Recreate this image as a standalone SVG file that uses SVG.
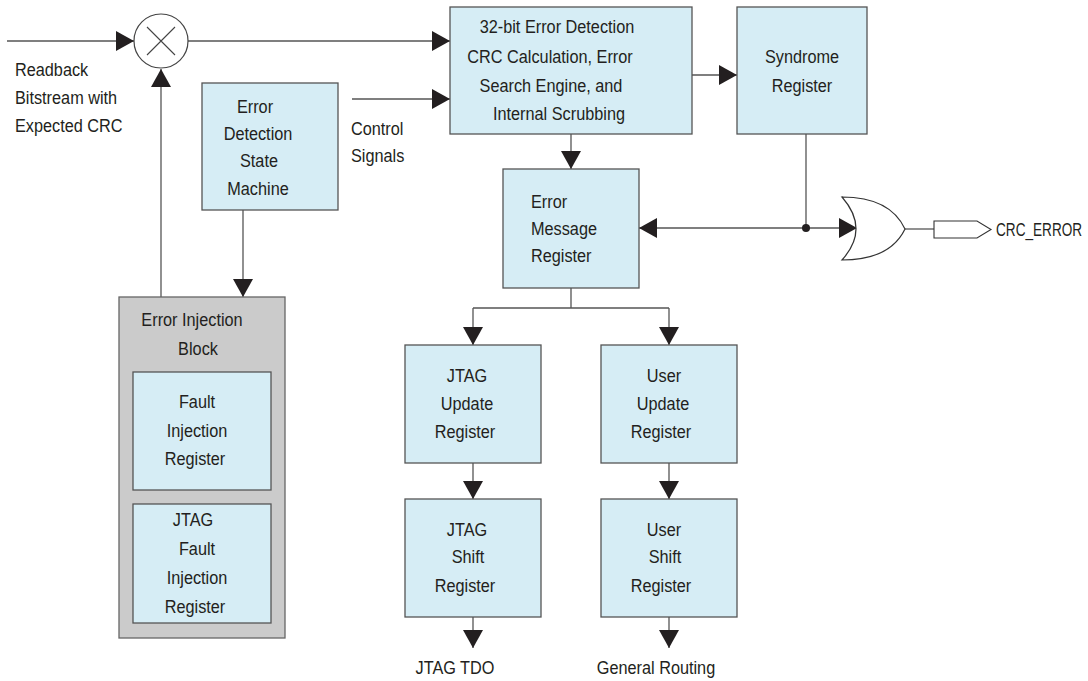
<svg xmlns="http://www.w3.org/2000/svg" width="1088" height="681" viewBox="0 0 1088 681">
<style>
text{font-family:"Liberation Sans",Arial,sans-serif;font-size:18.5px;fill:#231f20;transform-box:fill-box;transform-origin:left center;transform:scaleX(0.88)}
text.c{text-anchor:middle;transform-origin:center center}
text.n{transform:none;font-size:13.6px}
.box{fill:#d6edf5;stroke:#555;stroke-width:1.3}
.gray{fill:#cbcbcb;stroke:#666;stroke-width:1.3}
.ln{fill:none;stroke:#555;stroke-width:1.3}
.arr{marker-end:url(#ah)}
</style>
<defs>
<marker id="ah" markerUnits="userSpaceOnUse" markerWidth="18" markerHeight="20" refX="18" refY="10" orient="auto">
<path d="M0,0 L18,10 L0,20 Z" fill="#231f20"/>
</marker>
</defs>
<rect width="1088" height="681" fill="#fff"/>

<g id="connectors">
<path class="ln arr" d="M7,41 H134"/>
<path class="ln arr" d="M188,41 H450"/>
<path class="ln arr" d="M352,99 H450"/>
<path class="ln arr" d="M161,297 V69"/>
<path class="ln arr" d="M243,210 V297"/>
<path class="ln arr" d="M692,75 H737"/>
<path class="ln arr" d="M571,134 V169"/>
<path class="ln" d="M806,134 V228"/>
<path class="ln arr" d="M806,228 H639"/>
<path class="ln arr" d="M806,228 H857"/>
<circle cx="806" cy="228" r="4" fill="#231f20"/>
<path class="ln" d="M905,229 H934"/>
<path class="ln" d="M571,288 V308 M473,308 H669"/>
<path class="ln arr" d="M473,308 V345"/>
<path class="ln arr" d="M669,308 V345"/>
<path class="ln arr" d="M473,463 V499"/>
<path class="ln arr" d="M669,463 V499"/>
<path class="ln arr" d="M473,617 V648"/>
<path class="ln arr" d="M669,617 V648"/>
</g>

<g id="readback-label">
<text x="15" y="76">Readback</text>
<text x="15" y="104">Bitstream with</text>
<text x="15" y="132">Expected CRC</text>
</g>

<g id="multiplier">
<circle cx="161" cy="41" r="27" fill="#fff" stroke="#444" stroke-width="1.2"/>
<path d="M147,27 L175,55 M175,27 L147,55" stroke="#444" stroke-width="1.1"/>
</g>

<g id="control-label">
<text x="351" y="135">Control</text>
<text x="351" y="162">Signals</text>
</g>

<g id="state-machine">
<rect class="box" x="202" y="83" width="136" height="127"/>
<text class="c" x="255" y="113">Error</text>
<text class="c" x="258" y="140">Detection</text>
<text class="c" x="259" y="167">State</text>
<text class="c" x="258" y="195">Machine</text>
</g>

<g id="crc-engine">
<rect class="box" x="450" y="7" width="242" height="127"/>
<text class="c" x="557" y="33">32-bit Error Detection</text>
<text class="c" x="550" y="63">CRC Calculation, Error</text>
<text class="c" x="551" y="92">Search Engine, and</text>
<text class="c" x="559" y="120">Internal Scrubbing</text>
</g>

<g id="syndrome">
<rect class="box" x="737" y="7" width="130" height="127"/>
<text class="c" x="802" y="63">Syndrome</text>
<text class="c" x="802" y="92">Register</text>
</g>

<g id="error-message">
<rect class="box" x="503" y="169" width="136" height="119"/>
<text x="531" y="208">Error</text>
<text x="531" y="235">Message</text>
<text x="531" y="262">Register</text>
</g>

<g id="or-gate">
<path d="M842,197 Q890,197 905,229 Q890,260 842,260 Q870,229 842,197 Z" fill="#fff" stroke="#333" stroke-width="1.2"/>
</g>

<g id="crc-error">
<path d="M934,221 H977 L991,229.5 L977,238 H934 Z" fill="#fff" stroke="#333" stroke-width="1.1"/>
<g transform="translate(996,236) scale(1,1.3)">
<text class="n" x="0" y="0">CRC_ERROR</text>
</g>
</g>

<g id="error-injection-block">
<rect class="gray" x="119" y="297" width="166" height="341"/>
<text class="c" x="192" y="326">Error Injection</text>
<text class="c" x="198" y="355">Block</text>
</g>

<g id="fault-injection">
<rect class="box" x="133" y="372" width="138" height="118"/>
<text class="c" x="197" y="408">Fault</text>
<text class="c" x="197" y="437">Injection</text>
<text class="c" x="195" y="465">Register</text>
</g>

<g id="jtag-fault-injection">
<rect class="box" x="133" y="504" width="138" height="119"/>
<text class="c" x="193" y="526">JTAG</text>
<text class="c" x="197" y="555">Fault</text>
<text class="c" x="197" y="584">Injection</text>
<text class="c" x="195" y="613">Register</text>
</g>

<g id="jtag-update">
<rect class="box" x="405" y="345" width="136" height="118"/>
<text class="c" x="467" y="382">JTAG</text>
<text class="c" x="467" y="410">Update</text>
<text class="c" x="465" y="438">Register</text>
</g>

<g id="user-update">
<rect class="box" x="601" y="345" width="136" height="118"/>
<text class="c" x="664" y="382">User</text>
<text class="c" x="663" y="410">Update</text>
<text class="c" x="661" y="438">Register</text>
</g>

<g id="jtag-shift">
<rect class="box" x="405" y="499" width="136" height="118"/>
<text class="c" x="467" y="536">JTAG</text>
<text class="c" x="468" y="563">Shift</text>
<text class="c" x="465" y="592">Register</text>
</g>

<g id="user-shift">
<rect class="box" x="601" y="499" width="136" height="118"/>
<text class="c" x="664" y="536">User</text>
<text class="c" x="665" y="563">Shift</text>
<text class="c" x="661" y="592">Register</text>
</g>

<g id="jtag-tdo-label">
<text class="c" x="455" y="674">JTAG TDO</text>
</g>
<g id="general-routing-label">
<text class="c" x="656" y="674">General Routing</text>
</g>
</svg>
